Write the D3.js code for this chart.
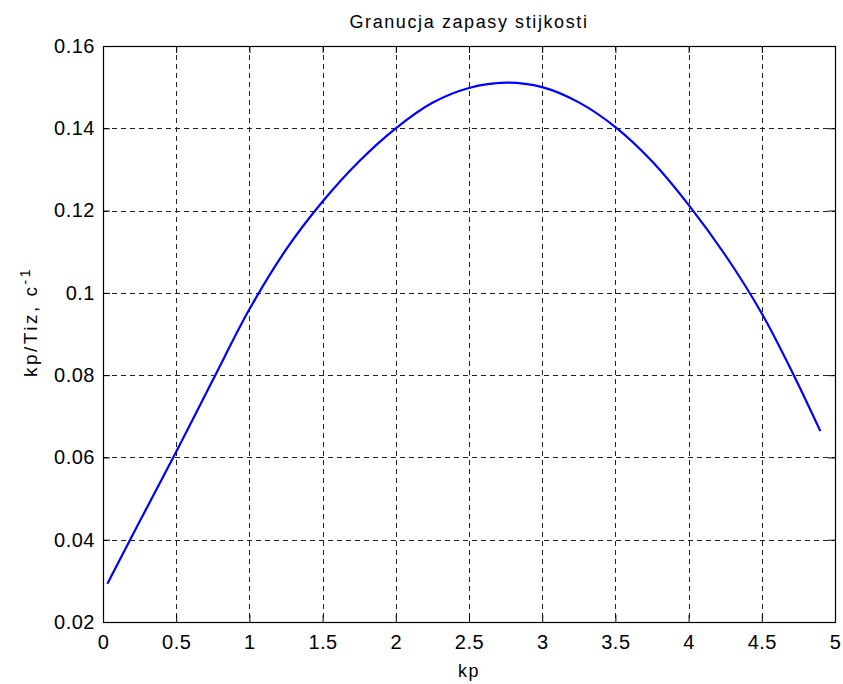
<!DOCTYPE html>
<html>
<head>
<meta charset="utf-8">
<script src="https://cdn.jsdelivr.net/npm/d3@7"></script>
<style>
  body { margin: 0; background: #fff; }
  svg text { font-family: "Liberation Sans", Arial, sans-serif; fill: #000; }
</style>
</head>
<body>
<div id="main"></div>
<script>
// data
const kp = [0.03, 0.25, 0.5, 0.75, 1.0, 1.25, 1.5, 1.75, 2.0, 2.25, 2.5, 2.75, 3.0, 3.25, 3.5, 3.75, 4.0, 4.25, 4.5, 4.71, 4.9];
const ratio = [0.0293, 0.0444, 0.0614, 0.0788, 0.0960, 0.1105, 0.1222, 0.1320, 0.1400, 0.1462, 0.1498, 0.1511, 0.1500, 0.1463, 0.1403, 0.1320, 0.1214, 0.1092, 0.0950, 0.0806, 0.0664];
const xTicks = [0, 0.5, 1, 1.5, 2, 2.5, 3, 3.5, 4, 4.5, 5];
const yTicks = [0.02, 0.04, 0.06, 0.08, 0.1, 0.12, 0.14, 0.16];

const W = 843, H = 684;
const margin = { top: 46, right: 8, bottom: 62, left: 103 };
const w = W - margin.left - margin.right;
const h = H - margin.top - margin.bottom;

const svg = d3.select("#main")
  .append("svg")
  .attr("width", W)
  .attr("height", H);

const g = svg.append("g")
  .attr("transform", `translate(${margin.left},${margin.top})`);

const x = d3.scaleLinear().domain([0, 5]).range([0, w]);
const y = d3.scaleLinear().domain([0.02, 0.16]).range([h, 0]);

// grid
g.append("g")
  .selectAll("line")
  .data(xTicks.slice(1, -1))
  .join("line")
  .attr("x1", d => Math.round(x(d)) + 0.5)
  .attr("x2", d => Math.round(x(d)) + 0.5)
  .attr("y1", 0).attr("y2", h)
  .attr("stroke", "#222").attr("stroke-dasharray", "5,4");

g.append("g")
  .selectAll("line")
  .data(yTicks.slice(1, -1))
  .join("line")
  .attr("y1", d => Math.round(y(d)) + 0.5)
  .attr("y2", d => Math.round(y(d)) + 0.5)
  .attr("x1", 0).attr("x2", w)
  .attr("stroke", "#222").attr("stroke-dasharray", "5,4");

// axes, ticks pointing inward like matlab
const fmt = d => String(d);
const xAxis = g.append("g")
  .attr("transform", `translate(0,${h})`)
  .call(d3.axisBottom(x).tickValues(xTicks).tickFormat(fmt).tickSize(-7).tickPadding(13));
const yAxis = g.append("g")
  .call(d3.axisLeft(y).tickValues(yTicks).tickFormat(fmt).tickSize(-7).tickPadding(8));
g.append("g")
  .call(d3.axisTop(x).tickValues(xTicks).tickFormat("").tickSize(-7));
g.append("g")
  .attr("transform", `translate(${w},0)`)
  .call(d3.axisRight(y).tickValues(yTicks).tickFormat("").tickSize(-7));

g.selectAll(".domain").remove();
g.selectAll(".tick line").attr("stroke", "#000");
[xAxis, yAxis].forEach(a => a.selectAll("text")
  .style("font-size", "20px")
  .style("letter-spacing", "0.5px")
  .style("font-family", "'Liberation Sans', Arial, sans-serif")
  .attr("fill", "#000"));
xAxis.selectAll("text").attr("dy", "0.71em");

// box
g.append("rect")
  .attr("x", 0.5).attr("y", 0.5)
  .attr("width", w).attr("height", h)
  .attr("fill", "none").attr("stroke", "#000").attr("stroke-width", 1.2);

// curve
const pts = kp.map((k, i) => [k, ratio[i]]);
g.append("path")
  .datum(pts)
  .attr("fill", "none")
  .attr("stroke", "#0000ff")
  .attr("stroke-width", 2.2)
  .attr("d", d3.line().x(d => x(d[0])).y(d => y(d[1])).curve(d3.curveCatmullRom));

// titulo
svg.append("text")
  .attr("x", margin.left + w / 2)
  .attr("y", 28)
  .attr("text-anchor", "middle")
  .style("font-size", "18px")
  .style("letter-spacing", "1.6px")
  .text("Granucja zapasy stijkosti");

// x label
svg.append("text")
  .attr("x", margin.left + w / 2)
  .attr("y", 677)
  .attr("text-anchor", "middle")
  .style("font-size", "18px")
  .style("letter-spacing", "1.6px")
  .text("kp");

// y label
const yl = svg.append("text")
  .attr("transform", `translate(37,${margin.top + h / 2 - 12}) rotate(-90)`)
  .attr("text-anchor", "middle")
  .style("font-size", "19px")
  .style("letter-spacing", "2.5px");
yl.append("tspan").text("kp/Tiz, c");
yl.append("tspan").attr("dy", "-0.5em").style("font-size", "14px").text("-1");
</script>
</body>
</html>
